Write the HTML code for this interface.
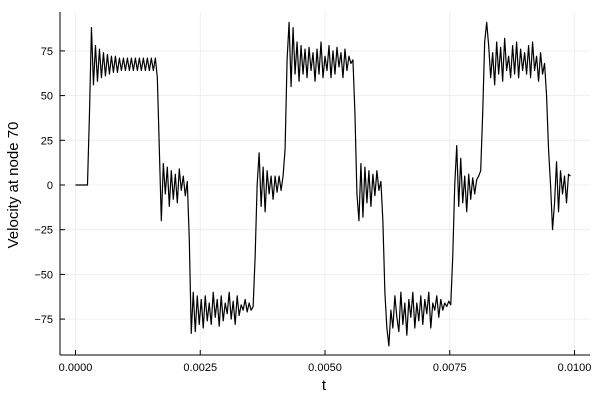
<!DOCTYPE html>
<html><head><meta charset="utf-8"><style>
body{margin:0;background:#fff;}
svg{display:block;font-family:"Liberation Sans","DejaVu Sans",sans-serif;}
</style></head><body>
<svg id="chart" width="600" height="400" viewBox="0 0 600 400">
<rect width="600" height="400" fill="#fff"/>
<g id="grid"></g>
<g id="xticks"></g>
<g id="yticks"></g>
<path id="series" fill="none" stroke="#000" stroke-width="1.2" stroke-linejoin="round"/>
<line x1="60" y1="355" x2="590" y2="355" stroke="#000" stroke-width="1"/>
<line x1="60" y1="12" x2="60" y2="355" stroke="#000" stroke-width="1"/>
<text x="324" y="390" font-size="15" text-anchor="middle">t</text>
<text transform="translate(18,185) rotate(-90)" font-size="15" text-anchor="middle">Velocity at node 70</text>
</svg>
<script>
const dt = 0.00004;
const xTickValues = [0, 0.0025, 0.005, 0.0075, 0.01];
const xTickLabels = ["0.0000", "0.0025", "0.0050", "0.0075", "0.0100"];
const yTickValues = [-75, -50, -25, 0, 25, 50, 75];
const yTickLabels = ["\u221275", "\u221250", "\u221225", "0", "25", "50", "75"];
const velocity = [
0,0,0,0,0,0,0,40,88,
56,78,58,76,60,74,61,73,62,72,63,72,63,71,64,71,64,71,64,71,64,71,64,71,64,71,64,71,64,71,64,71,
60,20,-20,
12,-5,10,-12,8,-8,6,-10,9,-3,5,-6,2,
-30,-83,
-60,-82,-62,-78,-64,-80,-62,-76,-66,-78,-60,-74,-64,-79,-62,-76,-66,-72,-60,-75,-65,-78,-62,-73,-67,-70,-64,-71,-66,-70,-68,
-40,0,18,
-12,10,-15,8,-5,5,-8,5,-4,5,-3,
5,20,70,91,
55,88,62,80,58,78,62,76,60,77,64,74,58,76,62,80,60,72,64,78,60,75,62,77,66,74,60,76,64,72,68,70,
40,-5,-20,
12,-18,10,-10,8,-12,6,-6,8,-3,2,
-20,-60,-80,-90,
-70,-80,-62,-74,-82,-60,-78,-66,-84,-64,-74,-60,-80,-66,-76,-62,-78,-64,-72,-60,-80,-66,-70,-62,-74,-64,-70,-66,-68,-65,-67,
-40,0,22,
-12,15,-10,5,-15,6,-8,4,-5,3,5,
8,40,80,91,
78,60,74,56,80,62,77,58,82,64,72,60,78,62,80,60,76,64,74,62,78,60,80,64,72,58,74,62,68,
50,20,0,-25,
-10,13,-15,8,-5,5,-10,6,5
];
function xScale(t){ return 75.5 + t * 49900; }
function yScale(v){ return 185 - v * 1.788; }
const NS = "http://www.w3.org/2000/svg";
const grid = document.getElementById('grid');
const xt = document.getElementById('xticks');
const yt = document.getElementById('yticks');
xTickValues.forEach((t, i) => {
  const x = xScale(t);
  const g = document.createElementNS(NS, 'line');
  g.setAttribute('x1', x); g.setAttribute('x2', x); g.setAttribute('y1', 12); g.setAttribute('y2', 355);
  g.setAttribute('stroke', '#ececec'); g.setAttribute('stroke-width', '0.8');
  
  
  grid.appendChild(g);
  const tk = document.createElementNS(NS, 'line');
  tk.setAttribute('x1', x); tk.setAttribute('x2', x); tk.setAttribute('y1', 355); tk.setAttribute('y2', 350);
  tk.setAttribute('stroke', '#000');
  
  
  xt.appendChild(tk);
  const tx = document.createElementNS(NS, 'text');
  tx.setAttribute('x', x); tx.setAttribute('y', 371); tx.setAttribute('font-size', '11');
  tx.setAttribute('text-anchor', 'middle');
  tx.textContent = xTickLabels[i];
  
  
  xt.appendChild(tx);
});
yTickValues.forEach((v, i) => {
  const y = yScale(v);
  const g = document.createElementNS(NS, 'line');
  g.setAttribute('x1', 60); g.setAttribute('x2', 590); g.setAttribute('y1', y); g.setAttribute('y2', y);
  g.setAttribute('stroke', '#ececec'); g.setAttribute('stroke-width', '0.8');
  
  
  grid.appendChild(g);
  const tk = document.createElementNS(NS, 'line');
  tk.setAttribute('x1', 60); tk.setAttribute('x2', 65); tk.setAttribute('y1', y); tk.setAttribute('y2', y);
  tk.setAttribute('stroke', '#000');
  
  
  yt.appendChild(tk);
  const tx = document.createElementNS(NS, 'text');
  tx.setAttribute('x', 53); tx.setAttribute('y', y + 4); tx.setAttribute('font-size', '11');
  tx.setAttribute('text-anchor', 'end');
  tx.textContent = yTickLabels[i];
  
  
  yt.appendChild(tx);
});
let d = '';
velocity.forEach((v, i) => {
  d += (i ? 'L' : 'M') + xScale(i * dt).toFixed(2) + ' ' + yScale(v).toFixed(2);
});
document.getElementById('series').setAttribute('d', d);
</script>
</body></html>
